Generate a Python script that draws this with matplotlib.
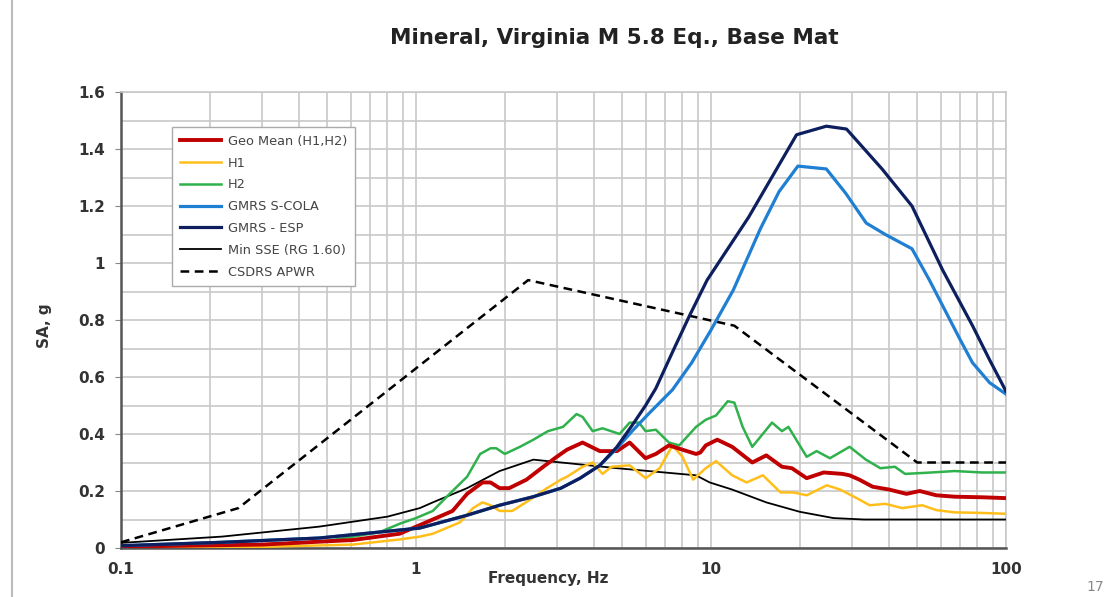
import matplotlib
matplotlib.use("Agg")
import matplotlib.pyplot as plt
from matplotlib.ticker import MultipleLocator, FixedLocator, NullFormatter
from matplotlib.lines import Line2D

plt.rcParams['font.family'] = ['DejaVu Sans']

# values (frequency in Hz, SA in g)
geo_f = [0.1, 0.3, 0.61, 0.88, 1.14, 1.33, 1.49, 1.68, 1.79, 1.92, 2.07, 2.37, 2.7, 3.0, 3.25,
         3.67, 4.2, 4.8, 5.3, 6.0, 6.5, 7.2, 8.0, 8.9, 9.2, 9.6, 10.5, 11.8, 13.8, 15.4, 17.4,
         18.8, 21.1, 24.1, 27.9, 29.5, 31.8, 35.3, 40.2, 46, 51, 58, 67, 83, 100]
geo_sa = [0.005, 0.012, 0.028, 0.05, 0.10, 0.13, 0.19, 0.23, 0.23, 0.21, 0.21, 0.24, 0.285, 0.32, 0.345,
          0.37, 0.34, 0.34, 0.37, 0.315, 0.33, 0.36, 0.345, 0.33, 0.335, 0.36, 0.38, 0.355, 0.30, 0.325, 0.285,
          0.28, 0.245, 0.265, 0.26, 0.255, 0.24, 0.215, 0.205, 0.19, 0.20, 0.185, 0.18, 0.178, 0.175]

h1_f = [0.1, 0.3, 0.61, 0.88, 1.03, 1.14, 1.41, 1.56, 1.68, 1.79, 1.92, 2.12, 2.44, 2.78, 3.1, 3.25,
        3.67, 3.97, 4.29, 4.6, 5.3, 6.0, 6.7, 7.4, 8.0, 8.7, 9.6, 10.4, 11.8, 13.2, 15.0, 17.2, 19,
        21.1, 24.7, 27.4, 31.2, 34.5, 39, 44.5, 52, 58, 67, 83, 100]
h1_sa = [0.002, 0.004, 0.012, 0.03, 0.04, 0.05, 0.09, 0.14, 0.16, 0.15, 0.13, 0.13, 0.17, 0.21, 0.24, 0.25,
         0.285, 0.30, 0.26, 0.285, 0.29, 0.245, 0.28, 0.36, 0.32, 0.24, 0.28, 0.305, 0.255, 0.23, 0.255, 0.195, 0.195,
         0.185, 0.22, 0.205, 0.175, 0.15, 0.155, 0.14, 0.15, 0.133, 0.125, 0.123, 0.12]

h2_f = [0.1, 0.3, 0.5, 0.75, 0.88, 1.0, 1.14, 1.3, 1.49, 1.65, 1.79, 1.87, 2.0, 2.25, 2.5, 2.8, 3.15,
        3.5, 3.67, 3.97, 4.29, 4.9, 5.3, 5.7, 6.0, 6.5, 7.2, 7.8, 8.9, 9.6, 10.4, 11.4, 12.0, 12.8,
        13.8, 16.1, 17.4, 18.3, 21.1, 22.8, 25.3, 29.5, 33.5, 37.5, 42, 45.5, 56, 67, 83, 100]
h2_sa = [0.003, 0.008, 0.025, 0.055, 0.085, 0.105, 0.13, 0.19, 0.25, 0.33, 0.35, 0.35, 0.33, 0.355, 0.38, 0.41, 0.425,
         0.47, 0.46, 0.41, 0.42, 0.40, 0.44, 0.44, 0.41, 0.415, 0.37, 0.36, 0.425, 0.45, 0.465, 0.515, 0.51, 0.425,
         0.355, 0.44, 0.41, 0.425, 0.32, 0.34, 0.315, 0.355, 0.31, 0.28, 0.285, 0.26, 0.265, 0.27, 0.265, 0.265]

scola_f = [0.1, 0.22, 0.47, 1.03, 1.49, 1.92, 2.5, 3.1, 3.6, 4.2, 4.8, 5.4, 6.2, 7.4, 8.6, 10, 11.9, 14.7,
           17, 19.7, 24.6, 28.6, 33.6, 39, 48, 55, 61, 70, 77, 88, 100]
scola_sa = [0.008, 0.02, 0.035, 0.07, 0.115, 0.15, 0.18, 0.21, 0.245, 0.29, 0.35, 0.41, 0.475, 0.555, 0.65, 0.765, 0.905, 1.12,
            1.25, 1.34, 1.33, 1.245, 1.14, 1.10, 1.05, 0.94, 0.85, 0.73, 0.65, 0.58, 0.54]

esp_f = [0.1, 0.22, 0.47, 1.03, 1.49, 1.92, 2.5, 3.1, 3.6, 4.2, 4.8, 5.4, 6.0, 6.5, 7.5, 8.5, 9.7, 13.4,
         19.5, 24.6, 28.8, 38, 48, 61, 77, 88, 100]
esp_sa = [0.008, 0.02, 0.035, 0.07, 0.115, 0.15, 0.18, 0.21, 0.245, 0.29, 0.355, 0.43, 0.50, 0.56, 0.70, 0.82, 0.94, 1.16,
          1.45, 1.48, 1.47, 1.33, 1.20, 0.975, 0.78, 0.66, 0.55]

sse_f = [0.1, 0.22, 0.47, 0.8, 1.03, 1.14, 1.49, 1.92, 2.5, 4.8, 8.9, 9.9, 11.8, 15.4, 20, 26, 33, 100]
sse_sa = [0.018, 0.04, 0.075, 0.11, 0.14, 0.16, 0.21, 0.27, 0.31, 0.28, 0.255, 0.23, 0.205, 0.16, 0.127, 0.105, 0.10, 0.10]

csdrs_f = [0.1, 0.25, 2.4, 12, 50, 100]
csdrs_sa = [0.02, 0.14, 0.94, 0.78, 0.30, 0.30]

legend_labels = ['Geo Mean (H1,H2)', 'H1', 'H2', 'GMRS S-COLA', 'GMRS - ESP',
                 'Min SSE (RG 1.60)', 'CSDRS APWR']

fig = plt.figure(figsize=(11.13, 5.97), dpi=100)
ax = fig.add_axes([121 / 1113, 1 - 548 / 597, 885 / 1113, 456 / 597])

ax.plot(csdrs_f, csdrs_sa, color='black', lw=1.8, ls=(0, (3.5, 2.2)), zorder=3, label=legend_labels[6])
ax.plot(sse_f, sse_sa, color='black', lw=1.3, zorder=3, label=legend_labels[5])
ax.plot(h2_f, h2_sa, color='#2fb14c', lw=1.8, zorder=3, label=legend_labels[2])
ax.plot(h1_f, h1_sa, color='#ffbe1a', lw=1.8, zorder=3, label=legend_labels[1])
ax.plot(geo_f, geo_sa, color='#c00000', lw=2.8, zorder=4, label=legend_labels[0])
ax.plot(scola_f, scola_sa, color='#1f7fd2', lw=2.3, zorder=4, label=legend_labels[3])
ax.plot(esp_f, esp_sa, color='#0d1f5e', lw=2.3, zorder=5, label=legend_labels[4])

ax.set_xscale('log')
ax.set_xlim(0.1, 100)
ax.set_ylim(0, 1.6)
ax.xaxis.set_major_locator(FixedLocator([0.1, 1, 10, 100]))
ax.xaxis.set_major_formatter(plt.FuncFormatter(lambda v, p: f'{v:g}'))
ax.xaxis.set_minor_formatter(NullFormatter())
ax.yaxis.set_major_locator(MultipleLocator(0.2))
ax.yaxis.set_minor_locator(MultipleLocator(0.1))
ax.yaxis.set_major_formatter(plt.FuncFormatter(lambda v, p: f'{v:g}'))

ax.grid(which='both', color='#c8c8c8', lw=1.2)
ax.set_axisbelow(True)
for s in ['top', 'right']:
    ax.spines[s].set_color('#c8c8c8')
    ax.spines[s].set_linewidth(1.2)
for s in ['left', 'bottom']:
    ax.spines[s].set_color('#555555')
    ax.spines[s].set_linewidth(1.8)

ax.tick_params(axis='x', which='both', length=0, pad=10, labelsize=11)
ax.tick_params(axis='y', which='major', length=4.5, color='#888888', labelsize=11, pad=7)
ax.tick_params(axis='y', which='minor', length=0)
for lab in ax.get_xticklabels() + ax.get_yticklabels():
    lab.set_fontweight('bold')
    lab.set_color('#333333')

fig.text(614 / 1113, 1 - 38 / 597, 'Mineral, Virginia M 5.8 Eq., Base Mat',
         ha='center', va='center', fontsize=15.5, fontweight='bold', color='#222222')
fig.text(548 / 1113, 1 - 578 / 597, 'Frequency, Hz', ha='center', va='center',
         fontsize=11, fontweight='bold', color='#333333')
fig.text(45 / 1113, 1 - 326 / 597, 'SA, g', ha='center', va='center', rotation=90,
         fontsize=11, fontweight='bold', color='#333333')
fig.text(1095 / 1113, 1 - 587 / 597, '17', ha='center', va='center', fontsize=10, color='#888888')
fig.add_artist(Line2D([12 / 1113, 12 / 1113], [0, 1], color='#bbbbbb', lw=1.5))

handles, labels = ax.get_legend_handles_labels()
order = [labels.index(l) for l in legend_labels]
leg = ax.legend([handles[i] for i in order], legend_labels, loc='upper left',
                bbox_to_anchor=(0.0576, 0.923), borderaxespad=0,
                fontsize=9.3, frameon=True, fancybox=False, edgecolor='#aaaaaa',
                framealpha=1, handlelength=3.2, handletextpad=0.5,
                labelspacing=0.68, borderpad=0.6)
leg.get_frame().set_linewidth(1.0)
for t in leg.get_texts():
    t.set_color('#444444')

fig.savefig('out.png', dpi=100)
